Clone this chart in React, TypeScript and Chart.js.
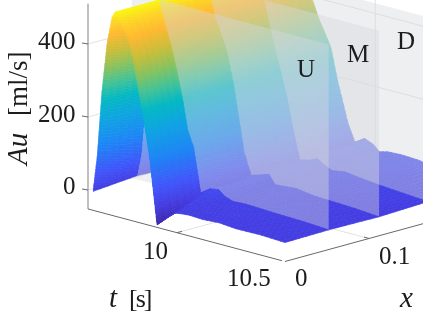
import React, { useEffect, useRef } from "react";
import { Chart, registerables } from "chart.js";

Chart.register(...registerables);

// Data
const tGrid = [9.6, 9.62, 9.643, 9.667, 9.69, 9.705, 9.733, 9.762, 9.79, 9.82, 9.843, 9.871, 9.905, 9.95, 9.99, 10.02, 10.06, 10.12, 10.2, 10.28, 10.4, 10.514];
const xGrid = [0, 0.052, 0.112, 0.17, 0.236];
const auAt0 = [0, 100, 284, 416, 490, 507, 480, 450, 397, 300, 230, 128, -45, -20, 0, 3, 5, 3, 6, 2, 3, 0];
const auAtU = [10, 70, 230, 380, 480, 507, 450, 395, 330, 250, 172, 130, 10, 28, 32, 18, 10, 12, 10, 8, 6, 2];
const auAtM = [5, 60, 210, 360, 470, 490, 425, 385, 340, 260, 180, 80, 20, 28, 36, 12, 14, 17, 10, 8, 5, 0];
const auAtD = [5, 50, 190, 340, 440, 460, 438, 368, 305, 240, 189, 110, 26, 32, 42, 30, 20, 26, 20, 15, 10, 5];
const auAtEnd = [5, 40, 170, 310, 405, 385, 342, 308, 272, 190, 140, 78, 30, 50, 40, 24, 30, 32, 30, 25, 15, 8];
const surface = [auAt0, auAtU, auAtM, auAtD, auAtEnd];

const auTicks = [0, 200, 400];
const tTicks = [10];
const xTicks = [0.1];
const planeLabels = ["U", "M", "D"];

const colorAu = [-45, 0, 50, 130, 200, 255, 300, 340, 390, 440, 480, 510];
const colorRgb = [
  [62, 38, 168], [68, 60, 225], [65, 85, 250], [30, 135, 245], [15, 165, 225], [5, 185, 195],
  [70, 195, 150], [130, 195, 100], [200, 190, 60], [255, 185, 50], [253, 215, 40], [249, 251, 14],
];

const T_MIN = 9.576;
const T_END = 10.514;
const Z_FLOOR = -52;
const Z_TOP = 510;

const project = (t: number, x: number, au: number) => ({
  x: 88 + 210 * (t - T_MIN) + 840 * x,
  y: 190 + 56 * (t - T_MIN) - 230 * x - 0.365 * au,
});

const colorFor = (au: number) => {
  const v = Math.max(colorAu[0], Math.min(colorAu[colorAu.length - 1], au));
  let i = 0;
  while (i < colorAu.length - 2 && v > colorAu[i + 1]) i++;
  const f = (v - colorAu[i]) / (colorAu[i + 1] - colorAu[i]);
  const c = colorRgb[i].map((a, k) => Math.round(a + (colorRgb[i + 1][k] - a) * f));
  return `rgb(${c[0]},${c[1]},${c[2]})`;
};

const lineSet = (pts: { x: number; y: number }[], color: string, width: number) => ({
  type: "line",
  data: pts,
  borderColor: color,
  borderWidth: width,
  pointRadius: 0,
  fill: false,
  tension: 0,
  parsing: false,
});

const shapeSet = (pts: { x: number; y: number }[], color: string, edge: number) => ({
  type: "line",
  data: [...pts, pts[0]],
  borderColor: color,
  borderWidth: edge,
  backgroundColor: color,
  pointRadius: 0,
  fill: "shape",
  tension: 0,
  parsing: false,
});

const cellQuads = (j: number) => {
  const out: any[] = [];
  const nx = 6;
  for (let sx = nx - 1; sx >= 0; sx--) {
    const u0 = sx / nx;
    const u1 = (sx + 1) / nx;
    const x0 = xGrid[j] + (xGrid[j + 1] - xGrid[j]) * u0;
    const x1 = xGrid[j] + (xGrid[j + 1] - xGrid[j]) * u1;
    for (let i = 0; i < tGrid.length - 1; i++) {
      const a0 = surface[j][i] + (surface[j + 1][i] - surface[j][i]) * u0;
      const a1 = surface[j][i] + (surface[j + 1][i] - surface[j][i]) * u1;
      const b0 = surface[j][i + 1] + (surface[j + 1][i + 1] - surface[j][i + 1]) * u0;
      const b1 = surface[j][i + 1] + (surface[j + 1][i + 1] - surface[j][i + 1]) * u1;
      const span = Math.max(Math.abs(b0 - a0), Math.abs(b1 - a1));
      const n = Math.max(Math.ceil((tGrid[i + 1] - tGrid[i]) / 0.025), Math.ceil(span / 8));
      for (let k = 0; k < n; k++) {
        const f0 = k / n;
        const f1 = (k + 1) / n;
        const t0 = tGrid[i] + (tGrid[i + 1] - tGrid[i]) * f0;
        const t1 = tGrid[i] + (tGrid[i + 1] - tGrid[i]) * f1;
        const p00 = a0 + (b0 - a0) * f0;
        const p01 = a0 + (b0 - a0) * f1;
        const p10 = a1 + (b1 - a1) * f0;
        const p11 = a1 + (b1 - a1) * f1;
        out.push(
          shapeSet(
            [project(t0, x0, p00), project(t1, x0, p01), project(t1, x1, p11), project(t0, x1, p10)],
            colorFor((p00 + p01 + p10 + p11) / 4),
            0.7
          )
        );
      }
    }
  }
  return out;
};

const planeSet = (x: number) =>
  shapeSet(
    [project(T_MIN, x, 0), project(T_END, x, 0), project(T_END, x, Z_TOP), project(T_MIN, x, Z_TOP)],
    "rgba(215,217,222,0.42)",
    0
  );

const buildDatasets = () => {
  const xEnd = xGrid[xGrid.length - 1];
  const grid = "rgb(226,226,226)";
  const axisDark = "rgb(105,105,105)";
  const axisLight = "rgb(165,165,165)";
  const list: any[] = [];
  auTicks.forEach((z) => {
    list.push(lineSet([project(T_MIN, 0, z), project(T_MIN, xEnd, z)], grid, 1));
    list.push(lineSet([project(T_MIN, xEnd, z), project(T_END + 0.2, xEnd, z)], grid, 1));
  });
  tTicks.forEach((t) => {
    list.push(lineSet([project(t, 0, Z_FLOOR), project(t, xEnd, Z_FLOOR)], grid, 1));
    list.push(lineSet([project(t, xEnd, Z_FLOOR), project(t, xEnd, 560)], grid, 1));
  });
  xTicks.forEach((x) => {
    list.push(lineSet([project(T_MIN, x, Z_FLOOR), project(10.5, x, Z_FLOOR)], grid, 1));
  });
  list.push(lineSet([project(T_MIN, 0, Z_FLOOR), project(T_MIN, 0, Z_TOP)], axisLight, 1.4));
  list.push(lineSet([project(T_MIN, 0, Z_FLOOR), project(10.5, 0, Z_FLOOR)], axisDark, 1));
  list.push(lineSet([project(T_END, 0, Z_FLOOR), project(T_END, xEnd, Z_FLOOR)], axisDark, 1));
  auTicks.forEach((z) => {
    const p = project(T_MIN, 0, z);
    list.push(lineSet([{ x: p.x - 6, y: p.y - 1 }, p], axisDark, 1));
  });
  tTicks.forEach((t) => {
    const p = project(t, 0, Z_FLOOR);
    list.push(lineSet([p, { x: p.x + 5, y: p.y - 1.5 }], axisDark, 1));
  });
  xTicks.forEach((x) => {
    const p = project(T_END, x, Z_FLOOR);
    list.push(lineSet([p, { x: p.x - 5, y: p.y - 1.5 }], axisDark, 1));
  });
  list.push(...cellQuads(3));
  list.push(planeSet(xGrid[3]));
  list.push(...cellQuads(2));
  list.push(planeSet(xGrid[2]));
  list.push(...cellQuads(1));
  list.push(planeSet(xGrid[1]));
  list.push(...cellQuads(0));
  return list.reverse();
};

const SERIF = '"Liberation Serif"';
const INK = "rgb(28,28,28)";

const textPlugin = {
  id: "plotText",
  afterDraw(chart: any) {
    const c = chart.ctx as any;
    c.save();
    c.fillStyle = INK;
    c.textBaseline = "alphabetic";
    c.textAlign = "left";
    const put = (s: string, x: number, y: number, italic = false, size = 25, spacing = 0) => {
      c.font = `${italic ? "italic " : ""}${size}px ${SERIF}`;
      c.letterSpacing = `${spacing}px`;
      c.fillText(s, x, y);
    };
    put(String(auTicks[2]), 38, 49);
    put(String(auTicks[1]), 38, 122);
    put(String(auTicks[0]), 63, 194);
    put("10", 143, 259);
    put("10.5", 227, 286);
    put("0", 295, 286);
    put("0.1", 379, 264);
    put("t", 109, 307, true, 29);
    put("[s]", 129, 307, false, 26, -2);
    put("x", 400, 307, true, 29);
    put(planeLabels[0], 297, 77, false, 25);
    put(planeLabels[1], 347, 62, false, 25);
    put(planeLabels[2], 397, 49, false, 25);
    c.save();
    c.translate(27, 165);
    c.rotate(-Math.PI / 2);
    put("Au", 0, 0, true, 29);
    put("[ml/s]", 49, 0, false, 27);
    c.restore();
    c.restore();
  },
};

export default function App() {
  const ref = useRef<HTMLCanvasElement>(null);
  useEffect(() => {
    if (!ref.current) return;
    const chart = new Chart(ref.current, {
      type: "line",
      data: { datasets: buildDatasets() },
      options: {
        animation: false,
        responsive: false,
        events: [],
        layout: { padding: 0 },
        plugins: { legend: { display: false }, tooltip: { enabled: false } },
        scales: {
          x: { type: "linear", min: 0, max: 423, display: false },
          y: { type: "linear", min: 0, max: 317, reverse: true, display: false },
        },
      },
      plugins: [textPlugin],
    } as any);
    return () => chart.destroy();
  }, []);
  return (
    <div style={{ position: "fixed", left: 0, top: 0, width: 423, height: 317, background: "#fff" }}>
      <canvas ref={ref} width={423} height={317} style={{ display: "block" }} />
    </div>
  );
}
